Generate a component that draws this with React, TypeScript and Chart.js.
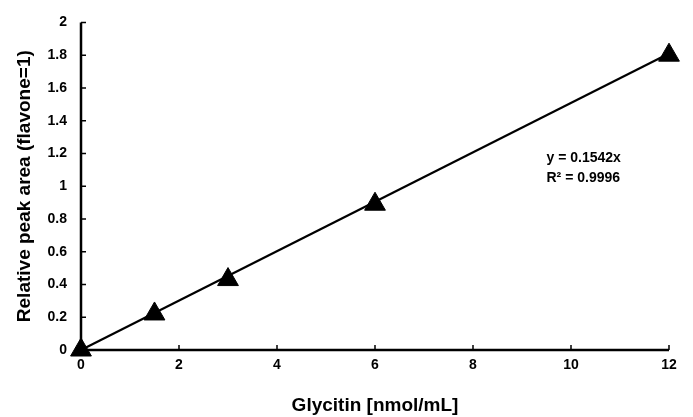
import React, { useEffect, useRef } from "react";
import { Chart, registerables } from "chart.js";

Chart.register(...registerables);

const concentrations = [0, 1.5, 3, 6, 12];
const relativeArea = [0, 0.22, 0.43, 0.89, 1.8];
const trendX = [0, 12];
const trendY = [0, 1.81];
const xTicks = [0, 2, 4, 6, 8, 10, 12];
const yTicks = [0, 0.2, 0.4, 0.6, 0.8, 1, 1.2, 1.4, 1.6, 1.8, 2];
const equationLines = ["y = 0.1542x", "R² = 0.9996"];
const xTitle = "Glycitin [nmol/mL]";
const yTitle = "Relative peak area (flavone=1)";

const FONT = "'Liberation Sans', Arial, sans-serif";

const axisPlugin = {
  id: "axisPlugin",
  afterDatasetsDraw(chart: any) {
    const { ctx, chartArea, scales } = chart;
    const xs = scales.x;
    const ys = scales.y;
    ctx.save();
    ctx.strokeStyle = "#000";
    ctx.lineWidth = 2.5;
    ctx.beginPath();
    ctx.moveTo(chartArea.left, ys.getPixelForValue(2));
    ctx.lineTo(chartArea.left, ys.getPixelForValue(0));
    ctx.lineTo(xs.getPixelForValue(12), ys.getPixelForValue(0));
    ctx.stroke();
    ctx.lineWidth = 1.5;
    ctx.beginPath();
    yTicks.forEach((v) => {
      const py = ys.getPixelForValue(v);
      ctx.moveTo(chartArea.left, py);
      ctx.lineTo(chartArea.left + 5, py);
    });
    xTicks.forEach((v) => {
      const px = xs.getPixelForValue(v);
      ctx.moveTo(px, ys.getPixelForValue(0));
      ctx.lineTo(px, ys.getPixelForValue(0) - 5);
    });
    ctx.stroke();
    ctx.fillStyle = "#000";
    ctx.font = `bold 14px ${FONT}`;
    ctx.textAlign = "left";
    ctx.textBaseline = "middle";
    const tx = xs.getPixelForValue(9.5);
    equationLines.forEach((t, i) => {
      ctx.fillText(t, tx, ys.getPixelForValue(1.17) + i * 20);
    });
    ctx.restore();
  },
};

export default function App() {
  const ref = useRef<HTMLCanvasElement | null>(null);
  useEffect(() => {
    if (!ref.current) return;
    const chart = new Chart(ref.current, {
      type: "scatter",
      data: {
        datasets: [
          {
            label: "trend",
            data: trendX.map((x, i) => ({ x, y: trendY[i] })),
            showLine: true,
            borderColor: "#000",
            borderWidth: 2.2,
            pointRadius: 0,
            clip: false,
            order: 2,
          },
          {
            label: "data",
            data: concentrations.map((x, i) => ({ x, y: relativeArea[i] })),
            pointStyle: "triangle",
            pointRadius: 12,
            backgroundColor: "#000",
            borderColor: "#000",
            borderWidth: 1,
            clip: false,
            order: 1,
          },
        ],
      },
      plugins: [axisPlugin],
      options: {
        animation: false,
        responsive: false,
        maintainAspectRatio: false,
        layout: { padding: { top: 20, right: 24, bottom: 0, left: 0 } },
        plugins: {
          legend: { display: false },
          tooltip: { enabled: false },
        },
        scales: {
          x: {
            type: "linear",
            min: 0,
            max: 12,
            afterBuildTicks: (s: any) => {
              s.ticks = xTicks.map((v) => ({ value: v }));
            },
            afterFit: (s: any) => {
              s.height = 67;
            },
            grid: { display: false, drawTicks: false },
            border: { display: false },
            ticks: {
              color: "#000",
              padding: 7,
              font: { family: FONT, size: 14, weight: "bold" },
            },
            title: {
              display: true,
              text: xTitle,
              color: "#000",
              font: { family: FONT, size: 19, weight: "bold" },
              padding: { top: 0, bottom: 0 },
            },
          },
          y: {
            type: "linear",
            min: 0,
            max: 2,
            afterBuildTicks: (s: any) => {
              s.ticks = yTicks.map((v) => ({ value: v }));
            },
            afterFit: (s: any) => {
              s.width = 81;
            },
            grid: { display: false, drawTicks: false },
            border: { display: false },
            ticks: {
              color: "#000",
              padding: 14,
              font: { family: FONT, size: 14, weight: "bold" },
              callback: (v: any) => String(Math.round(Number(v) * 10) / 10),
            },
            title: {
              display: true,
              text: yTitle,
              color: "#000",
              font: { family: FONT, size: 19, weight: "bold" },
              padding: { top: 13, bottom: 0 },
            },
          },
        },
      },
    } as any);
    return () => chart.destroy();
  }, []);
  return (
    <div style={{ position: "absolute", left: 0, top: 0, width: 693, height: 417, background: "#fff" }}>
      <canvas ref={ref} width={693} height={417} style={{ width: 693, height: 417 }} />
    </div>
  );
}
